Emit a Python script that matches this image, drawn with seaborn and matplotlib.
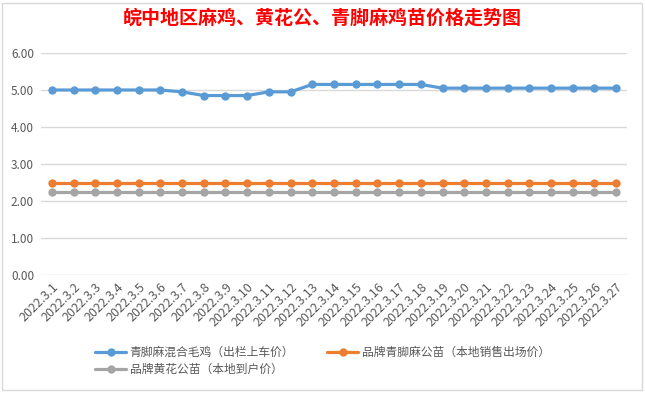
import numpy as np
import pandas as pd
import seaborn as sns
import matplotlib.pyplot as plt
from matplotlib.patches import Rectangle

dates = [f"2022.3.{d}" for d in range(1, 28)]
mixed_chicken = [5.00, 5.00, 5.00, 5.00, 5.00, 5.00, 4.95, 4.85, 4.85, 4.85,
                 4.95, 4.95, 5.15, 5.15, 5.15, 5.15, 5.15, 5.15, 5.05, 5.05,
                 5.05, 5.05, 5.05, 5.05, 5.05, 5.05, 5.05]
qingjiao_rooster = [2.50] * 27
huanghua_rooster = [2.25] * 27
series_names = ["青脚麻混合毛鸡（出栏上车价）", "品牌青脚麻公苗（本地销售出场价）", "品牌黄花公苗（本地到户价）"]
colors = ["#5B9BD5", "#ED7D31", "#A5A5A5"]

sns.set_style("white")
plt.rcParams['font.family'] = ['Noto Sans CJK SC', 'DejaVu Sans']

df = pd.DataFrame({
    "idx": np.tile(np.arange(len(dates)), 3),
    "price": mixed_chicken + qingjiao_rooster + huanghua_rooster,
    "series": np.repeat(series_names, len(dates)),
})

fig = plt.figure(figsize=(6.45, 3.93), dpi=100)
ax = fig.add_axes([41 / 645, 1 - 275 / 393, (627 - 41) / 645, (275 - 53) / 393])

sns.lineplot(data=df, x="idx", y="price", hue="series", hue_order=series_names,
             palette=colors, marker="o", markersize=6, markeredgewidth=0,
             linewidth=2.3, ax=ax, legend=False)

ax.set_xlim(-0.5, len(dates) - 0.5)
ax.set_ylim(0, 6)
ax.set_yticks(np.arange(0, 7, 1))
ax.set_yticklabels([f"{v:.2f}" for v in range(7)])
ax.set_xticks(np.arange(len(dates)))
ax.set_xticklabels(dates, rotation=45, ha="right", rotation_mode="anchor")
ax.tick_params(axis="y", length=0, labelsize=8.5, colors="#595959", pad=5)
ax.tick_params(axis="x", length=0, labelsize=9, colors="#595959", pad=4)
ax.set_xlabel("")
ax.set_ylabel("")
ax.grid(axis="y", color="#D9D9D9", linewidth=1)
ax.set_axisbelow(True)
for s in ax.spines.values():
    s.set_visible(False)

fig.text(0.5, 1 - 18 / 393, "皖中地区麻鸡、黄花公、青脚麻鸡苗价格走势图",
         ha="center", va="center", color="red", fontsize=13.7, fontweight="bold")

handles = [plt.Line2D([], [], color=c, linewidth=2.3, marker="o", markersize=6,
                      markeredgewidth=0) for c in colors]
order = [0, 2, 1]
leg = fig.legend([handles[i] for i in order], [series_names[i] for i in order],
                 loc="center", bbox_to_anchor=(0.5, 1 - 361 / 393), ncol=2,
                 frameon=False, fontsize=8.5, handlelength=2.6, columnspacing=2.8,
                 handletextpad=0.3, labelspacing=0.35)
for t in leg.get_texts():
    t.set_color("#595959")

fig.patches.append(Rectangle((2 / 645, 3 / 393), 640 / 645, 387 / 393,
                             transform=fig.transFigure, fill=False,
                             edgecolor="#D9D9D9", linewidth=1))

fig.savefig("out.png", dpi=100)
